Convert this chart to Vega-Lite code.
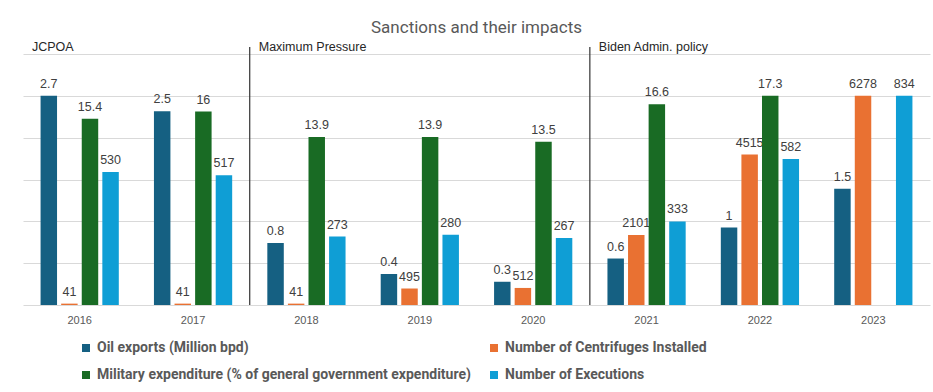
{
  "$schema": "https://vega.github.io/schema/vega-lite/v6.json",
  "width": 907,
  "height": 251,
  "autosize": {"type": "none"},
  "padding": {"left": 23, "top": 54, "right": 3, "bottom": 87},
  "background": "white",
  "title": {"text": "Sanctions and their impacts", "fontSize": 17, "fontWeight": "normal", "color": "#595959", "font": "Roboto", "frame": "group", "anchor": "middle", "baseline": "alphabetic", "offset": -9},
  "config": {"view": {"stroke": null}, "font": "Liberation Sans"},
  "datasets": {
    "bars": [
      {"year": "2016", "series": "Oil exports (Million bpd)", "value": 2.7},
      {"year": "2017", "series": "Oil exports (Million bpd)", "value": 2.5},
      {"year": "2018", "series": "Oil exports (Million bpd)", "value": 0.8},
      {"year": "2019", "series": "Oil exports (Million bpd)", "value": 0.4},
      {"year": "2020", "series": "Oil exports (Million bpd)", "value": 0.3},
      {"year": "2021", "series": "Oil exports (Million bpd)", "value": 0.6},
      {"year": "2022", "series": "Oil exports (Million bpd)", "value": 1},
      {"year": "2023", "series": "Oil exports (Million bpd)", "value": 1.5},
      {"year": "2016", "series": "Number of Centrifuges Installed", "value": 41},
      {"year": "2017", "series": "Number of Centrifuges Installed", "value": 41},
      {"year": "2018", "series": "Number of Centrifuges Installed", "value": 41},
      {"year": "2019", "series": "Number of Centrifuges Installed", "value": 495},
      {"year": "2020", "series": "Number of Centrifuges Installed", "value": 512},
      {"year": "2021", "series": "Number of Centrifuges Installed", "value": 2101},
      {"year": "2022", "series": "Number of Centrifuges Installed", "value": 4515},
      {"year": "2023", "series": "Number of Centrifuges Installed", "value": 6278},
      {"year": "2016", "series": "Military expenditure (% of general government expenditure)", "value": 15.4},
      {"year": "2017", "series": "Military expenditure (% of general government expenditure)", "value": 16},
      {"year": "2018", "series": "Military expenditure (% of general government expenditure)", "value": 13.9},
      {"year": "2019", "series": "Military expenditure (% of general government expenditure)", "value": 13.9},
      {"year": "2020", "series": "Military expenditure (% of general government expenditure)", "value": 13.5},
      {"year": "2021", "series": "Military expenditure (% of general government expenditure)", "value": 16.6},
      {"year": "2022", "series": "Military expenditure (% of general government expenditure)", "value": 17.3},
      {"year": "2016", "series": "Number of Executions", "value": 530},
      {"year": "2017", "series": "Number of Executions", "value": 517},
      {"year": "2018", "series": "Number of Executions", "value": 273},
      {"year": "2019", "series": "Number of Executions", "value": 280},
      {"year": "2020", "series": "Number of Executions", "value": 267},
      {"year": "2021", "series": "Number of Executions", "value": 333},
      {"year": "2022", "series": "Number of Executions", "value": 582},
      {"year": "2023", "series": "Number of Executions", "value": 834}
    ],
    "seps": [{"year": "2018"}, {"year": "2021"}],
    "eras": [
      {"year": "2016", "label": "JCPOA"},
      {"year": "2018", "label": "Maximum Pressure"},
      {"year": "2021", "label": "Biden Admin. policy"}
    ]
  },
  "data": {"name": "bars"},
  "layer": [
    {
      "transform": [{"filter": "datum.series === 'Oil exports (Million bpd)'"}],
      "encoding": {
        "x": {"field": "year", "type": "nominal", "title": null,
              "scale": {"domain": ["2016","2017","2018","2019","2020","2021","2022","2023"], "paddingInner": 0.31, "paddingOuter": 0.155},
              "axis": {"labelAngle": 0, "ticks": false, "domain": false, "labelColor": "#595959", "labelFontSize": 11, "labelPadding": 9, "labelFont": "Liberation Sans"}},
        "xOffset": {"field": "series", "type": "nominal", "scale": {"domain": ["Oil exports (Million bpd)", "Number of Centrifuges Installed", "Military expenditure (% of general government expenditure)", "Number of Executions"], "paddingInner": 0.2, "paddingOuter": 0}},
        "y": {"field": "value", "type": "quantitative", "title": null,
              "scale": {"domain": [0, 3.24], "nice": false, "zero": true},
              "axis": {"values": [0, 0.54, 1.08, 1.62, 2.16, 2.7, 3.24], "grid": true, "gridColor": "#d9d9d9", "gridWidth": 1, "labels": false, "ticks": false, "domain": false}},
        "color": {"field": "series", "type": "nominal",
                  "scale": {"domain": ["Oil exports (Million bpd)", "Number of Centrifuges Installed", "Military expenditure (% of general government expenditure)", "Number of Executions"], "range": ["#156082", "#E97132", "#196B24", "#0F9ED5"]},
                  "legend": {"title": null, "orient": "none", "direction": "horizontal", "legendX": 56, "legendY": 287, "columns": 2, "symbolType": "square", "symbolSize": 64, "labelFontSize": 14, "labelFontWeight": "bold", "labelColor": "#595959", "labelFont": "Roboto", "rowPadding": 13, "columnPadding": 16, "labelLimit": 500}}
      },
      "layer": [
        {"mark": {"type": "bar"}},
        {"mark": {"type": "text", "baseline": "bottom", "dy": -5, "fontSize": 12.5, "color": "#404040"}, "encoding": {"text": {"field": "value", "type": "nominal"}, "color": {"value": "#404040"}}}
      ]
    },
    {
      "transform": [{"filter": "datum.series === 'Number of Centrifuges Installed'"}],
      "encoding": {
        "x": {"field": "year", "type": "nominal"},
        "xOffset": {"field": "series", "type": "nominal"},
        "y": {"field": "value", "type": "quantitative", "scale": {"domain": [0, 7533.6], "nice": false}, "axis": null},
        "color": {"field": "series", "type": "nominal"}
      },
      "layer": [
        {"mark": {"type": "bar"}},
        {"mark": {"type": "text", "baseline": "bottom", "dy": -5, "fontSize": 12.5}, "encoding": {"text": {"field": "value", "type": "nominal"}, "color": {"value": "#404040"}}}
      ]
    },
    {
      "transform": [{"filter": "datum.series === 'Military expenditure (% of general government expenditure)'"}],
      "encoding": {
        "x": {"field": "year", "type": "nominal"},
        "xOffset": {"field": "series", "type": "nominal"},
        "y": {"field": "value", "type": "quantitative", "scale": {"domain": [0, 20.76], "nice": false}, "axis": null},
        "color": {"field": "series", "type": "nominal"}
      },
      "layer": [
        {"mark": {"type": "bar"}},
        {"mark": {"type": "text", "baseline": "bottom", "dy": -5, "fontSize": 12.5}, "encoding": {"text": {"field": "value", "type": "nominal"}, "color": {"value": "#404040"}}}
      ]
    },
    {
      "transform": [{"filter": "datum.series === 'Number of Executions'"}],
      "encoding": {
        "x": {"field": "year", "type": "nominal"},
        "xOffset": {"field": "series", "type": "nominal"},
        "y": {"field": "value", "type": "quantitative", "scale": {"domain": [0, 1000.8], "nice": false}, "axis": null},
        "color": {"field": "series", "type": "nominal"}
      },
      "layer": [
        {"mark": {"type": "bar"}},
        {"mark": {"type": "text", "baseline": "bottom", "dy": -5, "fontSize": 12.5}, "encoding": {"text": {"field": "value", "type": "nominal"}, "color": {"value": "#404040"}}}
      ]
    },
    {
      "data": {"name": "seps"},
      "mark": {"type": "rule", "color": "#333333", "strokeWidth": 1.2},
      "encoding": {
        "x": {"field": "year", "type": "nominal", "bandPosition": -0.225},
        "y": {"datum": 3.33, "type": "quantitative", "scale": {"domain": [0, 3.24], "nice": false}, "axis": null},
        "y2": {"datum": 0}
      }
    },
    {
      "data": {"name": "eras"},
      "mark": {"type": "text", "align": "left", "baseline": "alphabetic", "dx": 9, "dy": -3, "fontSize": 12.5, "color": "#262626"},
      "encoding": {
        "x": {"field": "year", "type": "nominal", "bandPosition": -0.225},
        "y": {"datum": 3.24, "type": "quantitative", "scale": {"domain": [0, 3.24], "nice": false}, "axis": null},
        "text": {"field": "label", "type": "nominal"}
      }
    }
  ],
  "resolve": {"scale": {"y": "independent"}, "axis": {"y": "independent"}}
}
